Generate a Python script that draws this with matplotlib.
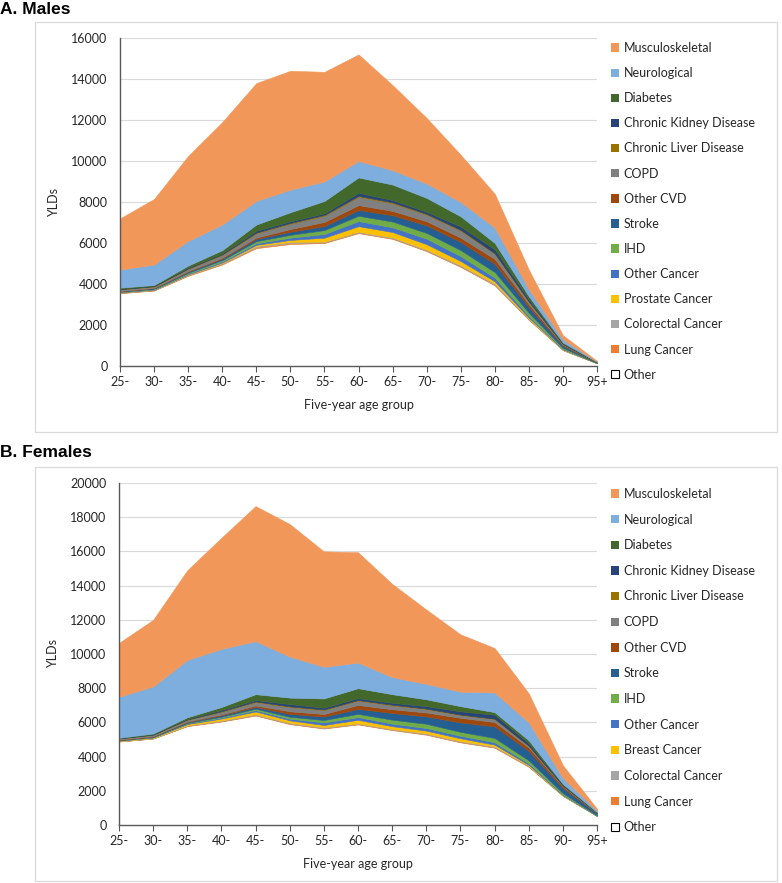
import matplotlib
matplotlib.use('Agg')
import matplotlib.pyplot as plt
from matplotlib.patches import Patch, Rectangle

W, H = 782, 883

age_groups = ['25-', '30-', '35-', '40-', '45-', '50-', '55-', '60-', '65-', '70-', '75-', '80-', '85-', '90-', '95+']

# ---------------- Males (bottom -> top) ----------------
m_other      = [3550, 3680, 4400, 4950, 5750, 5950, 6000, 6480, 6200, 5600, 4830, 3930, 2250, 770, 130]
m_lung       = [20, 20, 30, 40, 50, 50, 30, 30, 25, 30, 30, 30, 20, 10, 2]
m_colorectal = [15, 15, 25, 35, 50, 50, 40, 40, 50, 50, 60, 60, 40, 15, 3]
m_prostate   = [5, 5, 15, 25, 60, 100, 190, 270, 260, 260, 200, 110, 50, 15, 3]
m_othercanc  = [25, 30, 40, 55, 80, 110, 180, 250, 230, 270, 240, 180, 80, 25, 5]
m_ihd        = [15, 20, 40, 60, 100, 140, 190, 260, 280, 280, 290, 270, 150, 50, 10]
m_stroke     = [20, 25, 50, 70, 110, 150, 200, 280, 310, 370, 400, 400, 280, 100, 20]
m_othercvd   = [10, 15, 30, 45, 70, 130, 200, 240, 210, 200, 210, 240, 140, 50, 10]
m_copd       = [80, 70, 110, 140, 200, 260, 290, 400, 370, 320, 340, 250, 120, 30, 5]
m_liver      = [10, 10, 20, 30, 40, 40, 50, 50, 50, 40, 40, 30, 15, 5, 1]
m_ckd        = [20, 25, 40, 50, 90, 80, 80, 150, 110, 100, 160, 190, 100, 40, 8]
m_diabetes   = [50, 35, 100, 150, 300, 440, 600, 750, 755, 680, 500, 310, 150, 30, 5]
m_neuro      = [880, 1000, 1200, 1250, 1150, 1100, 950, 800, 700, 700, 700, 750, 350, 150, 20]
m_musculo    = [2500, 3200, 4150, 5000, 5750, 5800, 5350, 5200, 4150, 3200, 2300, 1650, 950, 210, 30]

# ---------------- Females (bottom -> top) ----------------
f_other      = [4880, 5050, 5780, 6050, 6400, 5900, 5640, 5880, 5550, 5280, 4830, 4520, 3400, 1700, 520]
f_lung       = [10, 15, 20, 25, 30, 30, 30, 30, 30, 30, 30, 30, 25, 10, 3]
f_colorectal = [15, 20, 30, 40, 50, 50, 50, 40, 40, 50, 50, 50, 40, 20, 6]
f_breast     = [20, 30, 70, 110, 160, 140, 130, 200, 160, 160, 160, 100, 50, 20, 5]
f_othercanc  = [20, 25, 40, 60, 80, 100, 150, 160, 150, 150, 150, 140, 90, 30, 8]
f_ihd        = [10, 15, 30, 50, 80, 110, 140, 190, 230, 250, 230, 250, 175, 80, 25]
f_stroke     = [20, 25, 50, 80, 100, 170, 200, 290, 390, 430, 550, 680, 550, 300, 110]
f_othercvd   = [10, 15, 30, 50, 90, 150, 150, 230, 220, 230, 270, 250, 200, 100, 35]
f_copd       = [70, 80, 100, 160, 200, 250, 230, 250, 230, 200, 160, 180, 100, 40, 10]
f_liver      = [10, 10, 20, 30, 40, 40, 40, 40, 40, 30, 30, 20, 10, 5, 1]
f_ckd        = [15, 20, 40, 70, 80, 130, 100, 110, 110, 140, 190, 230, 140, 60, 20]
f_diabetes   = [20, 45, 90, 175, 340, 380, 540, 580, 500, 400, 300, 150, 170, 35, 8]
f_neuro      = [2400, 2750, 3350, 3400, 3100, 2400, 1850, 1500, 1000, 900, 850, 1150, 1050, 350, 90]
f_musculo    = [3150, 3900, 5250, 6500, 7900, 7750, 6750, 6450, 5450, 4350, 3350, 2600, 1700, 750, 110]

male_labels = ['Other', 'Lung Cancer', 'Colorectal Cancer', 'Prostate Cancer', 'Other Cancer', 'IHD',
               'Stroke', 'Other CVD', 'COPD', 'Chronic Liver Disease', 'Chronic Kidney Disease',
               'Diabetes', 'Neurological', 'Musculoskeletal']
female_labels = ['Other', 'Lung Cancer', 'Colorectal Cancer', 'Breast Cancer', 'Other Cancer', 'IHD',
                 'Stroke', 'Other CVD', 'COPD', 'Chronic Liver Disease', 'Chronic Kidney Disease',
                 'Diabetes', 'Neurological', 'Musculoskeletal']
colors = ['#FFFFFF', '#ED7D31', '#A5A5A5', '#FFC000', '#4472C4', '#70AD47',
          '#255E91', '#9E480E', '#808080', '#997300', '#264478',
          '#43682B', '#7DAEDD', '#F1975A']

male_series = [m_other, m_lung, m_colorectal, m_prostate, m_othercanc, m_ihd, m_stroke, m_othercvd,
               m_copd, m_liver, m_ckd, m_diabetes, m_neuro, m_musculo]
female_series = [f_other, f_lung, f_colorectal, f_breast, f_othercanc, f_ihd, f_stroke, f_othercvd,
                 f_copd, f_liver, f_ckd, f_diabetes, f_neuro, f_musculo]

FONT = ['Lato', 'DejaVu Sans']
TITLE_FONT = ['Liberation Sans Narrow', 'Liberation Sans', 'DejaVu Sans']
TXT = '#262626'
AXC = '#595959'

fig = plt.figure(figsize=(W / 100, H / 100), dpi=100)


def rect(x0, y0, x1, y1):
    return [x0 / W, 1 - y1 / H, (x1 - x0) / W, (y1 - y0) / H]


def panel(series, labels, ymax, ax_px, box_px, title, title_y, leg_top, leg_sp):
    # panel frame
    bx0, by0, bx1, by1 = box_px
    fig.patches.append(Rectangle((bx0 / W, 1 - by1 / H), (bx1 - bx0) / W, (by1 - by0) / H,
                                 transform=fig.transFigure, facecolor='none',
                                 edgecolor='#D9D9D9', lw=0.9))
    fig.text(0.0, 1 - title_y / H, title, fontsize=12.5, fontweight='bold',
             family=TITLE_FONT, va='center', ha='left', color='black')

    ax = fig.add_axes(rect(*ax_px))
    x = list(range(len(age_groups)))
    polys = ax.stackplot(x, *series, colors=colors, labels=labels)
    for p, c in zip(polys, colors):
        p.set_edgecolor(c)
        p.set_linewidth(0.4)
    ax.set_xlim(0, len(age_groups) - 1)
    ax.set_ylim(0, ymax)
    ax.set_yticks(range(0, ymax + 1, 2000))
    ax.set_yticklabels([str(v) for v in range(0, ymax + 1, 2000)], family=FONT, fontsize=9, color=TXT)
    ax.set_xticks(x)
    ax.set_xticklabels(age_groups, family=FONT, fontsize=9, color=TXT)
    ax.tick_params(axis='y', length=0, pad=9)
    ax.tick_params(axis='x', length=4, direction='out', color=AXC, pad=3)
    ax.grid(axis='y', color='#D9D9D9', lw=0.8)
    ax.set_axisbelow(True)
    for s in ('top', 'right'):
        ax.spines[s].set_visible(False)
    for s in ('left', 'bottom'):
        ax.spines[s].set_color(AXC)
        ax.spines[s].set_linewidth(1.0)
        ax.spines[s].set_zorder(5)
    ax.set_ylabel('YLDs', family=FONT, fontsize=9, color=TXT, labelpad=8)
    ax.set_xlabel('Five-year age group', family=FONT, fontsize=9, color=TXT, labelpad=8)

    handles = []
    for lab, c in zip(labels[::-1], colors[::-1]):
        if lab == 'Other':
            handles.append(Patch(facecolor='white', edgecolor='black', lw=0.8, label=lab))
        else:
            handles.append(Patch(facecolor=c, edgecolor='none', label=lab))
    fig.legend(handles=handles, loc='upper left', bbox_to_anchor=(611 / W, 1 - leg_top / H),
               frameon=False, prop={'family': FONT, 'size': 9}, labelcolor=TXT,
               handlelength=0.65, handleheight=0.65, handletextpad=0.35,
               labelspacing=leg_sp, borderpad=0, borderaxespad=0)
    return ax


panel(male_series, male_labels, 16000, (120, 38, 597, 366), (35, 22, 777, 432),
      'A. Males', 9, 42, 1.05)
panel(female_series, female_labels, 20000, (119, 483, 597, 825), (35, 467, 777, 881),
      'B. Females', 452, 488, 1.09)

fig.savefig('out.png', dpi=100, facecolor='white')
